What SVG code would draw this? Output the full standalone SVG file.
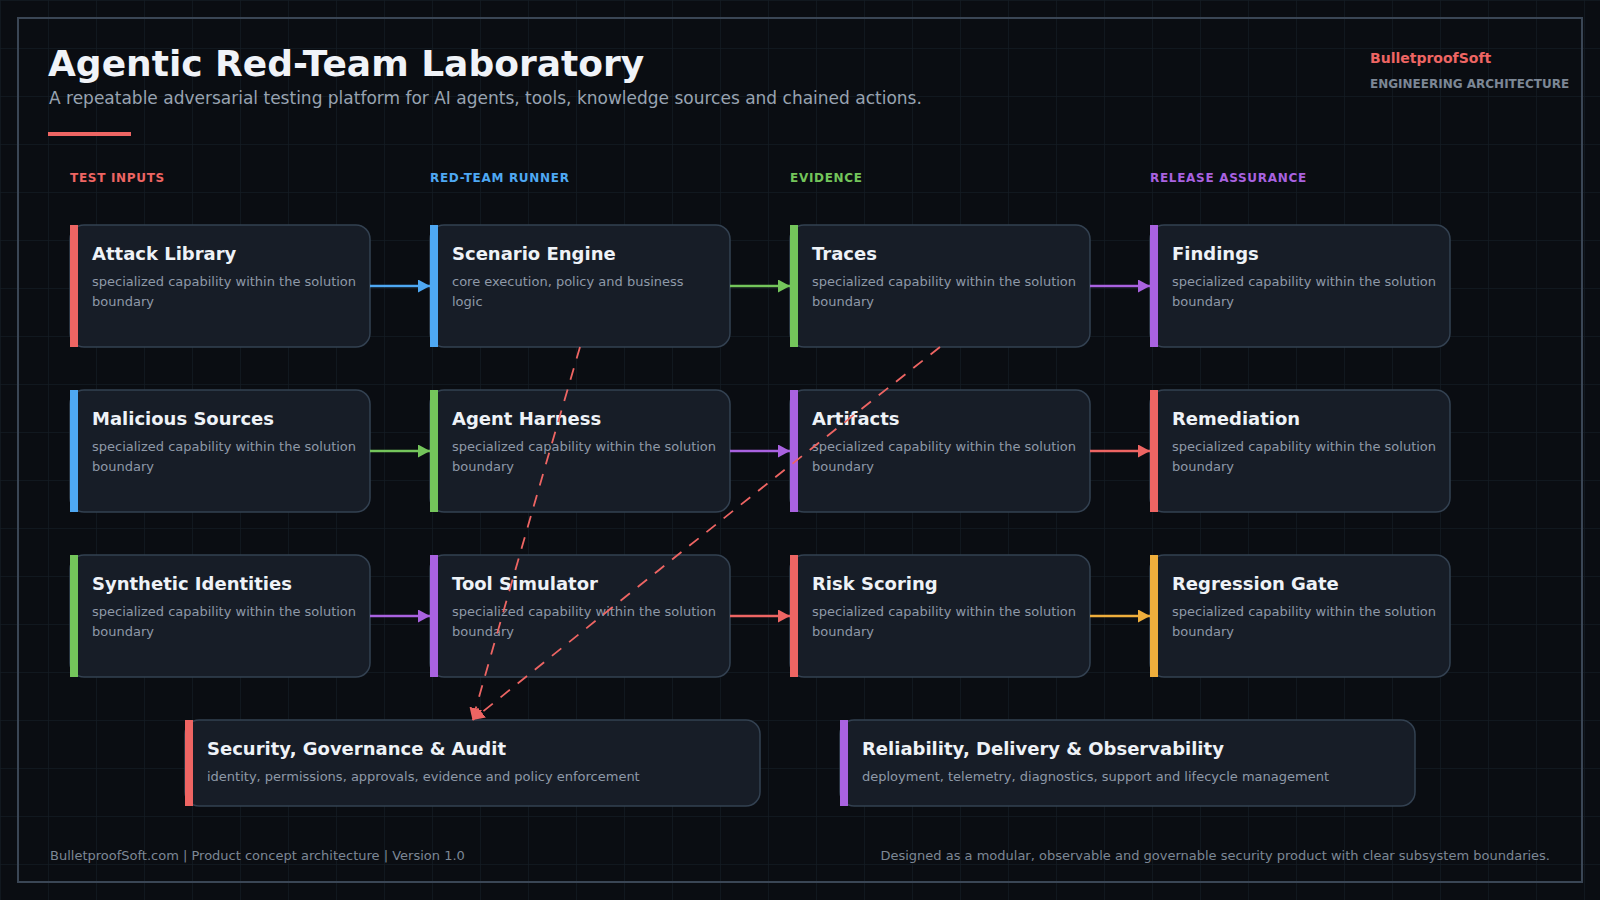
<svg xmlns="http://www.w3.org/2000/svg" width="1600" height="900" viewBox="0 0 1600 900">
  <defs>
    <pattern id="grid" width="48" height="48" patternUnits="userSpaceOnUse">
      <path d="M48 0 L0 0 L0 48" fill="none" stroke="#141b23" stroke-width="1.5"/>
    </pattern>
    <marker id="m-blue" markerUnits="userSpaceOnUse" markerWidth="12" markerHeight="13" refX="12" refY="6.5" orient="auto"><path d="M0,0 L12,6.5 L0,13 z" fill="#4ea8f3"/></marker>
    <marker id="m-green" markerUnits="userSpaceOnUse" markerWidth="12" markerHeight="13" refX="12" refY="6.5" orient="auto"><path d="M0,0 L12,6.5 L0,13 z" fill="#74c55b"/></marker>
    <marker id="m-purple" markerUnits="userSpaceOnUse" markerWidth="12" markerHeight="13" refX="12" refY="6.5" orient="auto"><path d="M0,0 L12,6.5 L0,13 z" fill="#a962e0"/></marker>
    <marker id="m-red" markerUnits="userSpaceOnUse" markerWidth="12" markerHeight="13" refX="12" refY="6.5" orient="auto"><path d="M0,0 L12,6.5 L0,13 z" fill="#ee6563"/></marker>
    <marker id="m-orange" markerUnits="userSpaceOnUse" markerWidth="12" markerHeight="13" refX="12" refY="6.5" orient="auto"><path d="M0,0 L12,6.5 L0,13 z" fill="#efae3c"/></marker>
  </defs>
  <style>
    .bg { fill: #0a0d12; }
    .frame { fill: none; stroke: #3a4655; stroke-width: 2; }
    .box { fill: #171d27; stroke: #334151; stroke-width: 1.5; }
    .title { font-family: "DejaVu Sans", sans-serif; font-weight: bold; font-size: 36px; fill: #f0f3f8; }
    .subtitle { font-family: "DejaVu Sans", sans-serif; font-size: 17px; fill: #98a3b1; }
    .brand { font-family: "DejaVu Sans", sans-serif; font-weight: bold; font-size: 14px; fill: #ee6563; }
    .brand2 { font-family: "DejaVu Sans", sans-serif; font-weight: bold; font-size: 12px; fill: #7c8795; }
    .col { font-family: "DejaVu Sans", sans-serif; font-weight: bold; font-size: 12px; letter-spacing: 0.7px; }
    .ntitle { font-family: "DejaVu Sans", sans-serif; font-weight: bold; font-size: 18px; fill: #eef2f7; }
    .ndesc { font-family: "DejaVu Sans", sans-serif; font-size: 13px; fill: #8e99a7; }
    .foot { font-family: "DejaVu Sans", sans-serif; font-size: 13px; fill: #7c8795; }
    .red { fill: #ee6563; }
    .blue { fill: #4ea8f3; }
    .green { fill: #74c55b; }
    .purple { fill: #a962e0; }
    .orange { fill: #efae3c; }
    .conn { fill: none; stroke-width: 2.5; }
    .dash { fill: none; stroke: #ee6563; stroke-width: 1.8; stroke-dasharray: 12 10; }
  </style>

  <rect class="bg" x="0" y="0" width="1600" height="900"/>
  <rect x="0" y="0" width="1600" height="900" fill="url(#grid)"/>
  <rect class="frame" x="18" y="18" width="1564" height="864"/>

  <g id="header">
    <text class="title" x="48" y="76">Agentic Red-Team Laboratory</text>
    <text class="subtitle" x="49" y="104">A repeatable adversarial testing platform for AI agents, tools, knowledge sources and chained actions.</text>
    <rect class="red" x="48" y="132" width="83" height="4"/>
    <text class="brand" x="1370" y="63">BulletproofSoft</text>
    <text class="brand2" x="1370" y="88">ENGINEERING ARCHITECTURE</text>
  </g>

  <g id="column-headers">
    <text class="col red" x="70" y="182">TEST INPUTS</text>
    <text class="col blue" x="430" y="182">RED-TEAM RUNNER</text>
    <text class="col green" x="790" y="182">EVIDENCE</text>
    <text class="col purple" x="1150" y="182">RELEASE ASSURANCE</text>
  </g>

  <g id="attack-library">
    <rect class="box" x="70" y="225" width="300" height="122" rx="14"/>
    <rect class="red" x="70" y="225" width="8" height="122"/>
    <text class="ntitle" x="92" y="260">Attack Library</text>
    <text class="ndesc" x="92" y="286">specialized capability within the solution</text>
    <text class="ndesc" x="92" y="306">boundary</text>
  </g>
  <g id="malicious-sources">
    <rect class="box" x="70" y="390" width="300" height="122" rx="14"/>
    <rect class="blue" x="70" y="390" width="8" height="122"/>
    <text class="ntitle" x="92" y="425">Malicious Sources</text>
    <text class="ndesc" x="92" y="451">specialized capability within the solution</text>
    <text class="ndesc" x="92" y="471">boundary</text>
  </g>
  <g id="synthetic-identities">
    <rect class="box" x="70" y="555" width="300" height="122" rx="14"/>
    <rect class="green" x="70" y="555" width="8" height="122"/>
    <text class="ntitle" x="92" y="590">Synthetic Identities</text>
    <text class="ndesc" x="92" y="616">specialized capability within the solution</text>
    <text class="ndesc" x="92" y="636">boundary</text>
  </g>

  <g id="scenario-engine">
    <rect class="box" x="430" y="225" width="300" height="122" rx="14"/>
    <rect class="blue" x="430" y="225" width="8" height="122"/>
    <text class="ntitle" x="452" y="260">Scenario Engine</text>
    <text class="ndesc" x="452" y="286">core execution, policy and business</text>
    <text class="ndesc" x="452" y="306">logic</text>
  </g>
  <g id="agent-harness">
    <rect class="box" x="430" y="390" width="300" height="122" rx="14"/>
    <rect class="green" x="430" y="390" width="8" height="122"/>
    <text class="ntitle" x="452" y="425">Agent Harness</text>
    <text class="ndesc" x="452" y="451">specialized capability within the solution</text>
    <text class="ndesc" x="452" y="471">boundary</text>
  </g>
  <g id="tool-simulator">
    <rect class="box" x="430" y="555" width="300" height="122" rx="14"/>
    <rect class="purple" x="430" y="555" width="8" height="122"/>
    <text class="ntitle" x="452" y="590">Tool Simulator</text>
    <text class="ndesc" x="452" y="616">specialized capability within the solution</text>
    <text class="ndesc" x="452" y="636">boundary</text>
  </g>

  <g id="traces">
    <rect class="box" x="790" y="225" width="300" height="122" rx="14"/>
    <rect class="green" x="790" y="225" width="8" height="122"/>
    <text class="ntitle" x="812" y="260">Traces</text>
    <text class="ndesc" x="812" y="286">specialized capability within the solution</text>
    <text class="ndesc" x="812" y="306">boundary</text>
  </g>
  <g id="artifacts">
    <rect class="box" x="790" y="390" width="300" height="122" rx="14"/>
    <rect class="purple" x="790" y="390" width="8" height="122"/>
    <text class="ntitle" x="812" y="425">Artifacts</text>
    <text class="ndesc" x="812" y="451">specialized capability within the solution</text>
    <text class="ndesc" x="812" y="471">boundary</text>
  </g>
  <g id="risk-scoring">
    <rect class="box" x="790" y="555" width="300" height="122" rx="14"/>
    <rect class="red" x="790" y="555" width="8" height="122"/>
    <text class="ntitle" x="812" y="590">Risk Scoring</text>
    <text class="ndesc" x="812" y="616">specialized capability within the solution</text>
    <text class="ndesc" x="812" y="636">boundary</text>
  </g>

  <g id="findings">
    <rect class="box" x="1150" y="225" width="300" height="122" rx="14"/>
    <rect class="purple" x="1150" y="225" width="8" height="122"/>
    <text class="ntitle" x="1172" y="260">Findings</text>
    <text class="ndesc" x="1172" y="286">specialized capability within the solution</text>
    <text class="ndesc" x="1172" y="306">boundary</text>
  </g>
  <g id="remediation">
    <rect class="box" x="1150" y="390" width="300" height="122" rx="14"/>
    <rect class="red" x="1150" y="390" width="8" height="122"/>
    <text class="ntitle" x="1172" y="425">Remediation</text>
    <text class="ndesc" x="1172" y="451">specialized capability within the solution</text>
    <text class="ndesc" x="1172" y="471">boundary</text>
  </g>
  <g id="regression-gate">
    <rect class="box" x="1150" y="555" width="300" height="122" rx="14"/>
    <rect class="orange" x="1150" y="555" width="8" height="122"/>
    <text class="ntitle" x="1172" y="590">Regression Gate</text>
    <text class="ndesc" x="1172" y="616">specialized capability within the solution</text>
    <text class="ndesc" x="1172" y="636">boundary</text>
  </g>

  <g id="security-governance-audit">
    <rect class="box" x="185" y="720" width="575" height="86" rx="14"/>
    <rect class="red" x="185" y="720" width="8" height="86"/>
    <text class="ntitle" x="207" y="755">Security, Governance &amp; Audit</text>
    <text class="ndesc" x="207" y="781">identity, permissions, approvals, evidence and policy enforcement</text>
  </g>
  <g id="reliability-delivery-observability">
    <rect class="box" x="840" y="720" width="575" height="86" rx="14"/>
    <rect class="purple" x="840" y="720" width="8" height="86"/>
    <text class="ntitle" x="862" y="755">Reliability, Delivery &amp; Observability</text>
    <text class="ndesc" x="862" y="781">deployment, telemetry, diagnostics, support and lifecycle management</text>
  </g>

  <g id="connectors">
    <line class="conn" x1="370" y1="286" x2="430" y2="286" stroke="#4ea8f3" marker-end="url(#m-blue)"/>
    <line class="conn" x1="730" y1="286" x2="790" y2="286" stroke="#74c55b" marker-end="url(#m-green)"/>
    <line class="conn" x1="1090" y1="286" x2="1150" y2="286" stroke="#a962e0" marker-end="url(#m-purple)"/>
    <line class="conn" x1="370" y1="451" x2="430" y2="451" stroke="#74c55b" marker-end="url(#m-green)"/>
    <line class="conn" x1="730" y1="451" x2="790" y2="451" stroke="#a962e0" marker-end="url(#m-purple)"/>
    <line class="conn" x1="1090" y1="451" x2="1150" y2="451" stroke="#ee6563" marker-end="url(#m-red)"/>
    <line class="conn" x1="370" y1="616" x2="430" y2="616" stroke="#a962e0" marker-end="url(#m-purple)"/>
    <line class="conn" x1="730" y1="616" x2="790" y2="616" stroke="#ee6563" marker-end="url(#m-red)"/>
    <line class="conn" x1="1090" y1="616" x2="1150" y2="616" stroke="#efae3c" marker-end="url(#m-orange)"/>
    <path class="dash" d="M580,347 Q525,535 472.5,720" marker-end="url(#m-red)"/>
    <path class="dash" d="M940,347 Q705,532 472.5,720" marker-end="url(#m-red)"/>
  </g>

  <g id="footer">
    <text class="foot" x="50" y="860">BulletproofSoft.com | Product concept architecture | Version 1.0</text>
    <text class="foot" x="1550" y="860" text-anchor="end">Designed as a modular, observable and governable security product with clear subsystem boundaries.</text>
  </g>
</svg>
